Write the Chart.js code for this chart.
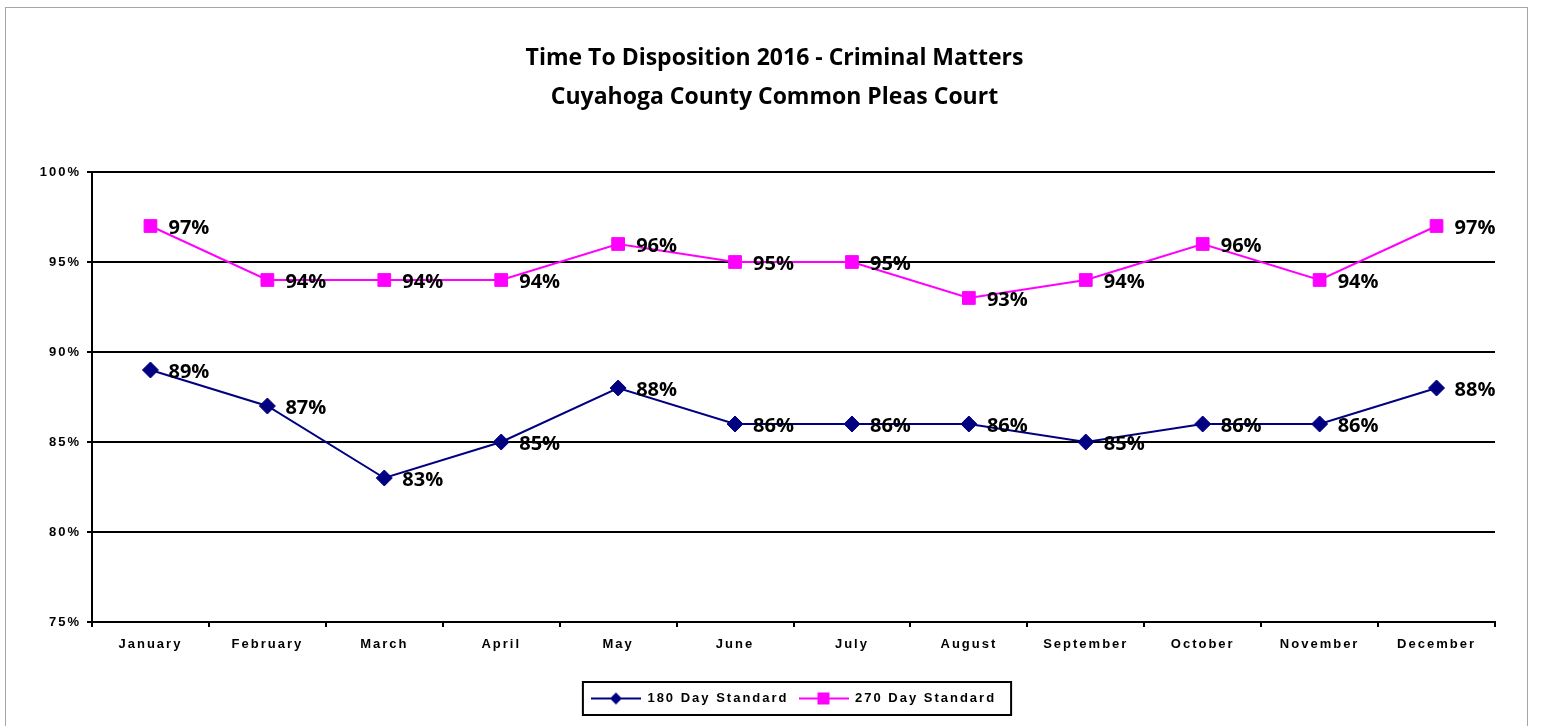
<!DOCTYPE html>
<html lang="en">
<head>
<meta charset="UTF-8">
<title>Time To Disposition 2016 - Criminal Matters</title>
<script src="https://cdn.jsdelivr.net/npm/chart.js"></script>
<style>
  html, body { margin: 0; padding: 0; background: #fff; }
  #wrap { width: 1541px; height: 726px; }
</style>
</head>
<body>
<div id="wrap"><canvas id="myChart"></canvas></div>
<script>
const months = ['January', 'February', 'March', 'April', 'May', 'June', 'July',
                'August', 'September', 'October', 'November', 'December'];
const day180 = [89, 87, 83, 85, 88, 86, 86, 86, 85, 86, 86, 88];
const day270 = [97, 94, 94, 94, 96, 95, 95, 93, 94, 96, 94, 97];
const yTicks = [75, 80, 85, 90, 95, 100];
const titleLines = ['Time To Disposition 2016 - Criminal Matters',
                    'Cuyahoga County Common Pleas Court'];

const NAVY = '#000080';
const MAGENTA = '#ff00ff';
const axisFont = { family: '"Liberation Sans", Arial, sans-serif', size: 13, weight: 'bold' };

// little line+marker pictures for the legend
function legendSample(color, diamond) {
  const c = document.createElement('canvas');
  c.width = 50; c.height = 14;
  const g = c.getContext('2d');
  g.strokeStyle = color; g.fillStyle = color; g.lineWidth = 2;
  g.beginPath(); g.moveTo(0, 7); g.lineTo(50, 7); g.stroke();
  if (diamond) {
    g.beginPath(); g.moveTo(25, 1); g.lineTo(31, 7); g.lineTo(25, 13); g.lineTo(19, 7); g.closePath(); g.fill();
  } else {
    g.fillRect(19, 1, 12, 12);
  }
  return c;
}
const samples = [legendSample(NAVY, true), legendSample(MAGENTA, false)];

const extras = {
  id: 'extras',
  beforeUpdate(chart) { chart.ctx.letterSpacing = '2px'; },
  beforeDraw(chart) {
    const ctx = chart.ctx;
    ctx.letterSpacing = '2px';
    ctx.save();
    ctx.strokeStyle = '#a6a6a6';
    ctx.lineWidth = 1;
    ctx.strokeRect(5.5, 7.5, 1522, 760);
    ctx.restore();
  },
  afterDatasetsDraw(chart) {
    const ctx = chart.ctx;
    ctx.save();
    ctx.letterSpacing = '0px';
    ctx.font = 'bold 20px "Open Sans", sans-serif';
    ctx.fillStyle = '#000';
    ctx.textAlign = 'left';
    ctx.textBaseline = 'middle';
    chart.data.datasets.forEach((ds, i) => {
      chart.getDatasetMeta(i).data.forEach((pt, j) => {
        ctx.fillText(ds.data[j] + '%', pt.x + 18, pt.y + 2);
      });
    });
    ctx.restore();
  },
  afterDraw(chart) {
    const ctx = chart.ctx;
    ctx.save();
    ctx.letterSpacing = '0px';
    ctx.font = 'bold 23px "Open Sans", sans-serif';
    ctx.fillStyle = '#000';
    ctx.textAlign = 'center';
    ctx.textBaseline = 'middle';
    const cx = chart.width / 2 + 4;
    titleLines.forEach((t, i) => ctx.fillText(t, cx, 58 + i * 39));
    // box round the legend
    const hb = chart.legend.legendHitBoxes;
    if (hb.length) {
      const left = Math.min(...hb.map(h => h.left)) - 8;
      const right = Math.max(...hb.map(h => h.left + h.width)) + 15;
      const top = hb[0].top - 10;
      ctx.strokeStyle = '#000';
      ctx.lineWidth = 2;
      ctx.strokeRect(left, top, right - left, hb[0].height + 20);
    }
    ctx.restore();
  }
};

const ctx = document.getElementById('myChart').getContext('2d');
const myChart = new Chart(ctx, {
  type: 'line',
  data: {
    labels: months,
    datasets: [
      {
        label: '180 Day Standard',
        data: day180,
        borderColor: NAVY,
        backgroundColor: NAVY,
        borderWidth: 2,
        pointStyle: 'rectRot',
        pointRadius: 8,
        pointHoverRadius: 8,
        pointBorderWidth: 1,
        tension: 0
      },
      {
        label: '270 Day Standard',
        data: day270,
        borderColor: MAGENTA,
        backgroundColor: MAGENTA,
        borderWidth: 2,
        pointStyle: 'rect',
        pointRadius: 9,
        pointHoverRadius: 9,
        pointBorderWidth: 1,
        tension: 0
      }
    ]
  },
  options: {
    responsive: true,
    maintainAspectRatio: false,
    animation: false,
    layout: { padding: { left: 5, right: 46, top: 172, bottom: 11 } },
    plugins: {
      title: { display: false },
      tooltip: { enabled: false },
      legend: {
        position: 'bottom',
        fullSize: false,
        labels: {
          usePointStyle: true,
          pointStyleWidth: 50,
          boxHeight: 14,
          padding: 10,
          color: '#000',
          font: axisFont,
          generateLabels(chart) {
            return chart.data.datasets.map((ds, i) => ({
              text: ds.label,
              fillStyle: ds.borderColor,
              strokeStyle: ds.borderColor,
              lineWidth: 0,
              pointStyle: samples[i],
              fontColor: '#000',
              hidden: false,
              datasetIndex: i
            }));
          }
        }
      }
    },
    scales: {
      x: {
        offset: true,
        afterFit(scale) { scale.height = 60; },
        grid: { display: true, drawOnChartArea: false, drawTicks: true, tickLength: 5, offset: true, color: '#000', lineWidth: 2 },
        border: { display: true, color: '#000', width: 2 },
        ticks: { color: '#000', font: axisFont, padding: 10, autoSkip: false, maxRotation: 0 }
      },
      y: {
        min: yTicks[0],
        max: yTicks[yTicks.length - 1],
        afterFit(scale) { scale.width = 87; },
        afterBuildTicks(scale) { scale.ticks = yTicks.map(v => ({ value: v })); },
        grid: { color: '#000', lineWidth: 2, drawTicks: true, tickLength: 5 },
        border: { display: true, color: '#000', width: 2 },
        ticks: { color: '#000', font: axisFont, padding: 6, callback: v => v + '%' }
      }
    }
  },
  plugins: [extras]
});
</script>
</body>
</html>
